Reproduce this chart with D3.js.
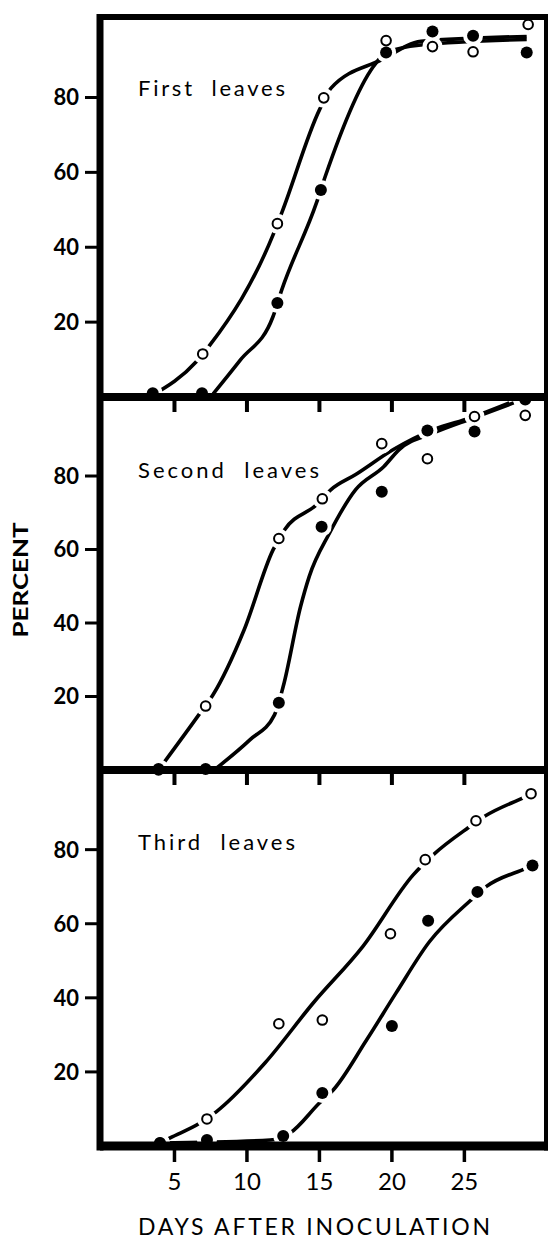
<!DOCTYPE html>
<html>
<head>
<meta charset="utf-8">
<script src="https://cdn.jsdelivr.net/npm/d3@7"></script>
<style>
  body { margin: 0; background: #fff; }
  svg { display: block; font-family: Lato, "Open Sans", sans-serif; }
</style>
</head>
<body>
<div id="chart"></div>
<script>
// panel titles and axis ticks
const panelNames = ["First  leaves", "Second  leaves", "Third  leaves"];
const xTicks = [5, 10, 15, 20, 25];
const yTicks = [20, 40, 60, 80];

// observed points, one inner array per panel (open and filled circles)
const openDays = [
  [3.5, 6.95, 12.1, 15.3, 19.6, 22.8, 25.6, 29.4],
  [3.9, 7.15, 12.2, 15.2, 19.3, 22.45, 25.7, 29.2],
  [4.0, 7.24, 12.2, 15.2, 19.9, 22.3, 25.8, 29.6],
];
const openPct = [
  [0.5, 11.5, 46.3, 79.9, 95.2, 93.6, 92.2, 99.5],
  [0, 17.4, 63, 73.8, 88.8, 84.7, 96.2, 96.5],
  [0.8, 7.3, 33, 34, 57.3, 77.3, 87.8, 95.1],
];
const filledDays = [
  [3.5, 6.9, 12.1, 15.1, 19.6, 22.8, 25.6, 29.3],
  [3.9, 7.15, 12.2, 15.15, 19.3, 22.45, 25.7, 29.2],
  [4.0, 7.24, 12.5, 15.2, 20.0, 22.5, 25.9, 29.7],
];
const filledPct = [
  [1, 1, 25.1, 55.3, 92, 97.6, 96.5, 92],
  [0.3, 0.3, 18.3, 66.2, 75.7, 92.4, 92.1, 100.8],
  [0.8, 1.6, 2.7, 14.3, 32.4, 60.8, 68.6, 75.7],
];

// hand-drawn fitted curves, read along the lines of the figure
const openCurveDays = [
  [3.5, 6.5, 7.45, 11.8, 12.4, 15.0, 15.8, 19.3, 22.0, 29.3],
  [3.9, 6.75, 7.65, 9.8, 11.8, 12.6, 14.8, 15.8, 17.5, 20.1, 22.85, 25.4, 28.1],
  [4.0, 4.7, 6.76, 7.9, 11.24, 14.57, 18.0, 21.47, 22.85, 25.26, 26.4, 29.06, 29.6],
];
const openCurvePct = [
  [0.5, 9.4, 13.9, 43.3, 49.2, 76.7, 82.5, 90.1, 95, 96.3],
  [0, 15.4, 20.4, 38.1, 59.9, 65.4, 72.2, 76.3, 80.4, 87.2, 92.6, 95.8, 99.9],
  [0.8, 2.2, 6.2, 9.3, 22.4, 38.6, 53.9, 73.2, 78.6, 85.9, 89, 94, 95],
];
const filledCurveDays = [
  [7.6, 9.55, 11.8, 12.4, 14.8, 15.4, 18.9, 19.6, 22.0, 29.3],
  [7.9, 10.2, 11.9, 12.5, 13.7, 14.3, 15.7, 17.5, 19.45, 20.5, 22.85, 25.6, 28.4],
  [4.0, 11.6, 12.97, 15.0, 15.95, 18.25, 20.3, 22.6, 25.4, 26.5, 29.3, 29.7],
];
const filledCurvePct = [
  [0.5, 9.9, 21.5, 28.6, 51.9, 58.9, 89.2, 92, 94, 95.5],
  [0.5, 8.2, 15, 22.7, 44.5, 52.7, 64.5, 76.3, 82.6, 87.2, 91.7, 95.8, 99.9],
  [0.8, 1.6, 3.5, 11.6, 15.1, 28.6, 41.4, 55.2, 66.2, 70, 75, 75.7],
];

// mise en page
const width = 551;
const height = 1239;
const left = 100;
const right = 546;
const edges = [17, 397, 770, 1146]; // bords horizontaux des panneaux

const svg = d3
  .select("#chart")
  .append("svg")
  .attr("width", width)
  .attr("height", height)
  .attr("viewBox", [0, 0, width, height]);

const x = d3.scaleLinear().domain([0, 30.7]).range([102, 547]);

const line = d3
  .line()
  .x((d) => x(d[0]))
  .curve(d3.curveMonotoneX);

panelNames.forEach((name, i) => {
  const top = edges[i];
  const bottom = edges[i + 1];
  const y = d3.scaleLinear().domain([0, 101.5]).range([bottom, top]);
  line.y((d) => y(d[1]));

  const g = svg.append("g");

  // les deux courbes
  [
    d3.zip(openCurveDays[i], openCurvePct[i]),
    d3.zip(filledCurveDays[i], filledCurvePct[i]),
  ].forEach((pts) => {
    g.append("path")
      .attr("d", line(pts))
      .attr("fill", "none")
      .attr("stroke", "#000")
      .attr("stroke-width", 3.6)
      .attr("stroke-linecap", "butt");
  });

  const open = d3.zip(openDays[i], openPct[i]);
  const filled = d3.zip(filledDays[i], filledPct[i]);

  // blanc autour des points pour couper les courbes
  g.selectAll("circle.halo")
    .data(open.concat(filled))
    .join("circle")
    .attr("class", "halo")
    .attr("cx", (d) => x(d[0]))
    .attr("cy", (d) => y(d[1]))
    .attr("r", 10)
    .attr("fill", "#fff");

  // y ticks + labels
  yTicks.forEach((t) => {
    g.append("line")
      .attr("x1", 85)
      .attr("x2", left)
      .attr("y1", y(t))
      .attr("y2", y(t))
      .attr("stroke", "#000")
      .attr("stroke-width", 3);
    g.append("text")
      .attr("x", 79)
      .attr("y", y(t))
      .attr("dy", "0.36em")
      .attr("text-anchor", "end")
      .attr("font-size", 22)
      .attr("font-weight", 700)
      .text(t);
  });

  // ticks at the top of panels 2 and 3
  if (i > 0) {
    xTicks.forEach((t) => {
      g.append("line")
        .attr("x1", x(t))
        .attr("x2", x(t))
        .attr("y1", top)
        .attr("y2", top + 15)
        .attr("stroke", "#000")
        .attr("stroke-width", 4);
    });
  }

  g.append("text")
    .attr("x", 138)
    .attr("y", [96, 478, 850][i])
    .attr("font-size", 22)
    .attr("textLength", [147, 181, 157][i])
    .attr("lengthAdjust", "spacing")
    .style("white-space", "pre")
    .text(name);

  // points
  g.selectAll("circle.open")
    .data(open)
    .join("circle")
    .attr("class", "open")
    .attr("cx", (d) => x(d[0]))
    .attr("cy", (d) => y(d[1]))
    .attr("r", 4.8)
    .attr("fill", "#fff")
    .attr("stroke", "#000")
    .attr("stroke-width", 2);

  g.selectAll("circle.filled")
    .data(filled)
    .join("circle")
    .attr("class", "filled")
    .attr("cx", (d) => x(d[0]))
    .attr("cy", (d) => y(d[1]))
    .attr("r", 6)
    .attr("fill", "#000");
});

// cadre
svg.append("line")
  .attr("x1", left).attr("x2", left)
  .attr("y1", edges[0] - 3).attr("y2", edges[3] + 4.5)
  .attr("stroke", "#000").attr("stroke-width", 7);
svg.append("line")
  .attr("x1", right).attr("x2", right)
  .attr("y1", edges[0] - 3).attr("y2", edges[3] + 4.5)
  .attr("stroke", "#000").attr("stroke-width", 4);
edges.forEach((e, i) => {
  svg.append("line")
    .attr("x1", left).attr("x2", right + 2)
    .attr("y1", e).attr("y2", e)
    .attr("stroke", "#000")
    .attr("stroke-width", [6, 8, 8, 9][i]);
});

// axe du bas
const bottomEdge = edges[3];
xTicks.forEach((t) => {
  svg.append("line")
    .attr("x1", x(t)).attr("x2", x(t))
    .attr("y1", bottomEdge).attr("y2", bottomEdge + 16)
    .attr("stroke", "#000").attr("stroke-width", 3.5);
  svg.append("text")
    .attr("x", x(t))
    .attr("y", 1190)
    .attr("text-anchor", "middle")
    .attr("font-size", 24)
    .text(t);
});

svg.append("text")
  .attr("x", 314)
  .attr("y", 1235)
  .attr("text-anchor", "middle")
  .attr("font-size", 23)
  .attr("textLength", 352)
  .attr("lengthAdjust", "spacing")
  .text("DAYS AFTER INOCULATION");

svg.append("text")
  .attr("transform", "translate(21,580) rotate(-90)")
  .attr("text-anchor", "middle")
  .attr("dy", "0.36em")
  .attr("font-size", 20)
  .attr("font-weight", 700)
  .attr("textLength", 115)
  .attr("lengthAdjust", "spacingAndGlyphs")
  .text("PERCENT");
</script>
</body>
</html>
